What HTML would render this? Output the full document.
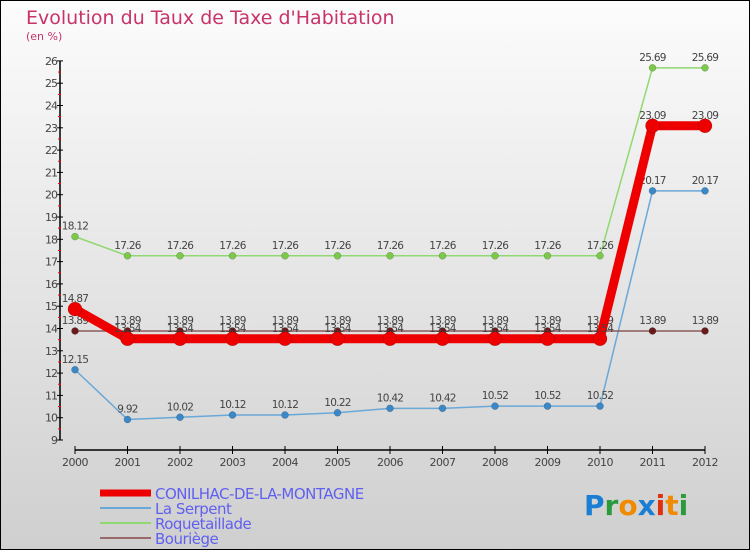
<!DOCTYPE html>
<html><head><meta charset="utf-8"><style>
html,body{margin:0;padding:0}
body{width:750px;height:550px;overflow:hidden;font-family:"DejaVu Sans","Liberation Sans",sans-serif}
#wrap{position:relative;width:748px;height:548px;border:1px solid #000;background:linear-gradient(#fcfcfc,#cfcfcf)}
</style></head><body>
<div id="wrap">
<svg id="chart" width="748" height="548" viewBox="1 1 748 548" style="position:absolute;left:0;top:0">
<text x="26" y="24" font-size="19" fill="#c8336a">Evolution du Taux de Taxe d'Habitation</text>
<text x="26" y="40" font-size="11" fill="#c8336a">(en %)</text>
<g id="axes"></g>
<g id="series"></g>
<g id="legend"></g>
<text x="584" y="515" font-size="28" font-weight="bold"><tspan fill="#1a7fd4">P</tspan><tspan fill="#2a9a3a">r</tspan><tspan fill="#f08a00">o</tspan><tspan fill="#1a7fd4">x</tspan><tspan fill="#e03010">i</tspan><tspan fill="#f08a00">t</tspan><tspan fill="#2a9a3a">i</tspan></text>
</svg>
</div>
<script>
const years=[2000,2001,2002,2003,2004,2005,2006,2007,2008,2009,2010,2011,2012];
const conilhac=[14.87,13.54,13.54,13.54,13.54,13.54,13.54,13.54,13.54,13.54,13.54,23.09,23.09];
const laSerpent=[12.15,9.92,10.02,10.12,10.12,10.22,10.42,10.42,10.52,10.52,10.52,20.17,20.17];
const roquetaillade=[18.12,17.26,17.26,17.26,17.26,17.26,17.26,17.26,17.26,17.26,17.26,25.69,25.69];
const bouriege=[13.89,13.89,13.89,13.89,13.89,13.89,13.89,13.89,13.89,13.89,13.89,13.89,13.89];
const yTicks=[9,10,11,12,13,14,15,16,17,18,19,20,21,22,23,24,25,26];
const NS="http://www.w3.org/2000/svg";
const x=i=>75+i*52.5;
const y=v=>440-(v-9)*22.3;
function mk(tag,attrs,parent){const e=document.createElementNS(NS,tag);for(const k in attrs)e.setAttribute(k,attrs[k]);parent.appendChild(e);return e;}
const axes=document.getElementById('axes');
let e=mk('line',{x1:60,x2:60,y1:y(26),y2:y(9),stroke:'#000','stroke-width':1.5},axes);


yTicks.forEach(t=>{
  let l=mk('line',{x1:57,x2:63,y1:y(t),y2:y(t),stroke:'#000'},axes);
  
  
  if(t<26){let m=mk('line',{x1:58,x2:61,y1:y(t+0.5),y2:y(t+0.5),stroke:'#f00'},axes);
  
  }
  let tx=mk('text',{x:57,y:y(t)+4,'font-size':11,'text-anchor':'end',fill:'#444','letter-spacing':'-1'},axes);
  tx.textContent=t;
  
  
});
e=mk('line',{x1:x(0),x2:x(12),y1:450,y2:450,stroke:'#000','stroke-width':1.5},axes);


years.forEach((yr,i)=>{
  let l=mk('line',{x1:x(i),x2:x(i),y1:446,y2:454,stroke:'#000'},axes);
  
  
  let tx=mk('text',{x:x(i),y:466,'font-size':11,'text-anchor':'middle',fill:'#444','letter-spacing':'-0.5'},axes);
  tx.textContent=yr;
  
  
});
const sg=document.getElementById('series');
function drawSeries(vals,color,dot,w,r,name,labelColor){
  const g=mk('g',{},sg);
  
  
  const p=mk('polyline',{points:vals.map((v,i)=>x(i)+','+y(v)).join(' '),fill:'none',stroke:color,'stroke-width':w,'stroke-linejoin':'round'},g);
  
  
  vals.forEach((v,i)=>{
    const c=mk('circle',{cx:x(i),cy:y(v),r:r,fill:dot,stroke:'rgba(0,0,0,0.3)','stroke-width':0.5},g);
    
    
    const t=mk('text',{x:x(i),y:y(v)-7,'font-size':10.5,'text-anchor':'middle',fill:labelColor,'letter-spacing':'-0.7'},g);
    t.textContent=v.toFixed(2).replace(/0$/,'');
    
    
  });
}
drawSeries(roquetaillade,'#90d870','#7cc84a',1.5,3.5,'roquetaillade-series','#444');
drawSeries(laSerpent,'#6aa8d8','#3a88c8',1.5,3.5,'la-serpent-series','#444');
drawSeries(bouriege,'#8a5a5a','#6a1a1a',1.5,3.5,'bouriege-series','#444');
drawSeries(conilhac,'#ee0000','#ee0000',9,7,'conilhac-series','#444');
const lg=document.getElementById('legend');
const leg=[['CONILHAC-DE-LA-MONTAGNE','#ee0000',7],['La Serpent','#6aa8d8',2],['Roquetaillade','#90d870',2],['Bouriège','#9a6a6a',2]];
leg.forEach((d,i)=>{
  const yy=493+i*15;
  const l=mk('line',{x1:100,x2:151,y1:yy,y2:yy,stroke:d[1],'stroke-width':d[2]},lg);
  
  
  const t=mk('text',{x:155,y:yy+6,'font-size':15,fill:'#6060f0','letter-spacing':'-0.5'},lg);
  t.textContent=d[0];
  
  
});
</script>
</body></html>
